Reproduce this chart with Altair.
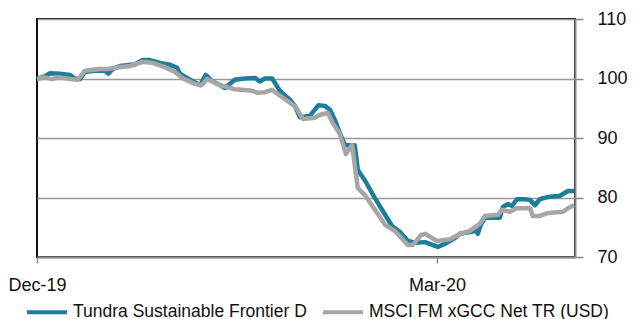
import altair as alt
import pandas as pd

S1 = "Tundra Sustainable Frontier D"
S2 = "MSCI FM xGCC Net TR (USD)"

# days after 31 Dec 2019 and index values
t_days = [0, 1.4, 3.0, 5.2, 7.5, 8.6, 9.8, 10.9, 13.2, 15.5, 16.2, 17.3, 18.9, 22.3, 24.1,
          25.7, 28.0, 30.3, 31.9, 32.5, 34.8, 37.1, 38.4, 39.8, 41.6, 42.8, 45.0, 47.3, 49.6,
          50.7, 51.9, 53.5, 55.3, 57.6, 58.7, 59.8, 62.1, 64.0, 65.5, 66.7, 67.8, 68.9, 70.1,
          72.3, 73.0, 74.6, 76.9, 79.2, 80.8, 82.6, 84.4, 86.0, 88.3, 91.2, 92.8, 95.1, 96.2,
          98.5, 99.9, 100.3, 101.0, 101.9, 105.3, 106.0, 107.2, 108.1, 109.2, 111.0, 112.2,
          113.3, 114.4, 116.3, 119.0, 120.8, 122.2]
t_vals = [100.0, 100.2, 100.9, 100.8, 100.6, 100.0, 99.9, 101.1, 101.3, 101.3, 100.8, 101.6,
          102.1, 102.4, 103.1, 103.1, 102.6, 102.3, 101.8, 100.8, 99.8, 98.9, 100.6, 99.6,
          98.9, 98.4, 99.8, 100.0, 100.1, 99.5, 100.0, 100.0, 97.9, 96.4, 95.4, 93.5, 93.7,
          95.5, 95.4, 94.7, 93.0, 90.8, 88.8, 88.8, 84.6, 82.9, 79.9, 77.1, 75.2, 74.2, 72.7,
          72.4, 72.5, 71.7, 72.2, 73.2, 73.9, 74.2, 74.4, 73.9, 75.4, 76.6, 76.6, 78.4, 78.9,
          78.6, 79.7, 79.7, 79.6, 78.7, 79.7, 80.1, 80.3, 81.1, 81.1]

m_days = [0, 1.8, 3.4, 4.8, 7.5, 9.3, 10.9, 14.3, 16.2, 17.7, 21.2, 24.1, 26.4, 29.1, 31.4,
          33.0, 35.9, 37.5, 38.7, 41.6, 45.0, 48.5, 50.3, 51.9, 53.5, 55.3, 58.0, 58.9, 60.5,
          63.2, 64.4, 66.2, 67.3, 68.9, 70.3, 71.7, 73.0, 74.6, 77.6, 79.2, 81.4, 84.4, 85.5,
          87.4, 88.3, 91.0, 94.0, 95.8, 98.5, 100.8, 101.9, 104.9, 105.8, 107.6, 109.2, 112.2,
          112.8, 114.4, 116.3, 119.7, 120.8, 122.2]
m_vals = [99.9, 100.2, 99.9, 100.2, 99.9, 99.8, 101.3, 101.6, 101.6, 101.8, 102.1, 102.8,
          102.6, 101.9, 101.1, 100.1, 99.1, 98.9, 99.9, 98.9, 98.2, 98.0, 97.6, 97.7, 98.1,
          97.1, 95.7, 95.2, 93.2, 93.4, 93.9, 94.2, 92.5, 90.7, 87.3, 88.8, 81.6, 80.4, 77.2,
          75.4, 74.4, 72.0, 72.0, 73.7, 73.9, 72.7, 73.0, 73.7, 74.4, 75.6, 76.9, 77.1, 77.9,
          77.6, 78.2, 78.2, 76.9, 76.9, 77.4, 77.6, 78.2, 78.7]

start = pd.Timestamp("2019-12-31")
def frame(days, vals, name):
    return pd.DataFrame({
        "date": [start + pd.Timedelta(days=d) for d in days],
        "value": vals,
        "series": name,
    })

df1 = frame(t_days, t_vals, S1)
df2 = frame(m_days, m_vals, S2)

FONT = "Liberation Sans"
x_ticks = [alt.DateTime(year=2019, month=12, date=31), alt.DateTime(year=2020, month=3, date=31)]

color = alt.Color(
    "series:N",
    scale=alt.Scale(domain=[S1, S2], range=["#1f7d9c", "#a6a6a6"]),
    legend=alt.Legend(
        title=None, orient="none", direction="horizontal",
        legendX=-12, legendY=271,
        symbolType="stroke", symbolSize=1600, symbolStrokeWidth=4,
        labelFont=FONT, labelFontSize=17.5, labelColor="#111111",
        columnPadding=8, labelOffset=4, labelLimit=400,
    ),
)

x = alt.X(
    "date:T",
    scale=alt.Scale(domain=[alt.DateTime(year=2019, month=12, date=31),
                            alt.DateTime(year=2020, month=5, date=1, hours=10)]),
    axis=alt.Axis(
        title=None, values=x_ticks, format="%b-%y", grid=False,
        domainColor="#888888", domainWidth=2, tickColor="#888888", tickWidth=1.5,
        tickSize=6, labelPadding=13, labelFont=FONT, labelFontSize=18,
        labelColor="#111111", labelAlign="center",
    ),
)
y = alt.Y(
    "value:Q",
    scale=alt.Scale(domain=[70, 110], nice=False, zero=False),
    axis=alt.Axis(
        title=None, orient="right", values=[70, 80, 90, 100, 110],
        domainColor="#888888", domainWidth=2, tickColor="#888888", tickWidth=1.5,
        tickSize=8, labelPadding=14, labelFont=FONT, labelFontSize=18,
        labelColor="#111111", gridColor="#999999", gridWidth=1.5,
    ),
)

l1 = alt.Chart(df1).mark_line(strokeWidth=4.5, strokeJoin="round").encode(x=x, y=y, color=color)
l2 = alt.Chart(df2).mark_line(strokeWidth=4.5, strokeJoin="round").encode(x=x, y=y, color=color)

chart = alt.layer(l1, l2).properties(
    width=538, height=238,
    padding={"left": 29, "top": 11, "right": 57, "bottom": 62},
    autosize=alt.AutoSizeParams(type="none"),
).configure_view(stroke="#111111", strokeWidth=2)

chart.save("out.html", embed_options={"renderer": "svg", "actions": False})
